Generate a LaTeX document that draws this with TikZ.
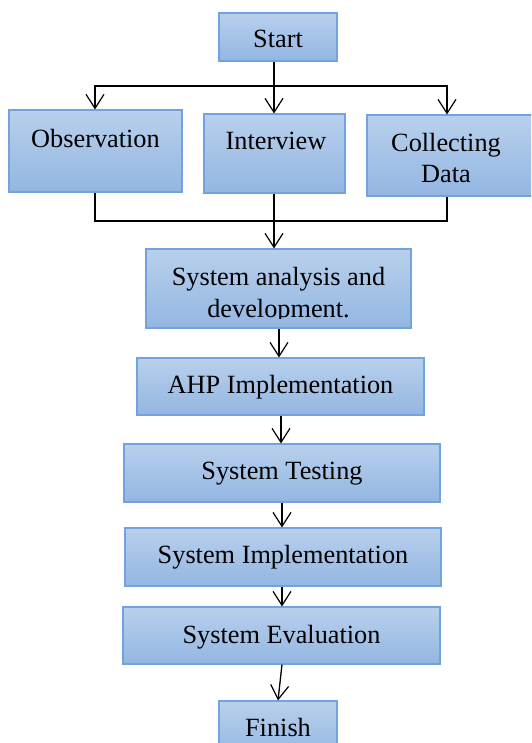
\documentclass[tikz,border=0pt]{standalone}
\usepackage{fontspec}
\setmainfont{Liberation Serif}
\usetikzlibrary{arrows.meta,fit}
\definecolor{boxtop}{HTML}{B8D0EC}
\definecolor{boxbot}{HTML}{93B6E2}
\definecolor{boxline}{HTML}{72A3DD}
\tikzset{
  box/.style={draw=boxline, line width=1.1pt, top color=boxtop, bottom color=boxbot, inner sep=0pt, rectangle},
  txt/.style={anchor=base, inner sep=0pt, font=\fontsize{26.3}{30}\selectfont},
  conn/.style={draw=black, line width=1.3pt},
  arr/.style={conn, -{Straight Barb[length=14pt, width=18pt, line width=1.2pt]}}
}
\begin{document}
\begin{tikzpicture}[x=1pt, y=-1pt]
\useasboundingbox (0,0) rectangle (531,743);
\clip (0,0) rectangle (531,743);
\fill[white] (0,0) rectangle (531,743);
% boxes
\node[box, fit={(219,13) (337,61)}] (start) {};
\node[box, fit={(9,110) (182,192)}] (obs) {};
\node[box, fit={(204,114) (345,193)}] (int) {};
\node[box, fit={(367,115) (535,196)}] (col) {};
\node[box, fit={(146,249) (411,328)}] (sa) {};
\node[box, fit={(137,358) (424,415)}] (ahp) {};
\node[box, fit={(124,444) (440,502)}] (test) {};
\node[box, fit={(125,528) (441,586)}] (impl) {};
\node[box, fit={(123,607) (440,664)}] (eval) {};
\node[box, fit={(219,701) (337,760)}] (fin) {};
% texts
\node[txt] (tstart) at (278,48) {Start};
\node[txt] (tobs) at (95.5,148) {Observation};
\node[txt] (tint) at (276,150) {Interview};
\node[txt] (tcol1) at (446,152) {Collecting};
\node[txt] (tcol2) at (446,183) {Data};
\node[txt] (tsa1) at (278.5,285) {System analysis and};
\begin{scope}
\clip (146,249) rectangle (411,318);
\node[txt] (tsa2) at (278.5,317) {development.};
\end{scope}
\node[txt] (tahp) at (280.5,393) {AHP Implementation};
\node[txt] (ttest) at (282,479) {System Testing};
\node[txt] (timpl) at (283,563) {System Implementation};
\node[txt] (teval) at (281.5,643) {System Evaluation};
\node[txt] (tfin) at (278,736) {Finish};
% connector coordinates
\coordinate (j1) at (274,86);
\coordinate (j2) at (274,221);
\coordinate (xo) at (95,0);
\coordinate (xc) at (447,0);
\coordinate (xs) at (274,0);
% top split
\draw[conn] (start.south -| xs) -- (j1);
\draw[arr] (j1) -| (obs.north -| xo);
\draw[arr] (j1) -- (int.north -| xs);
\draw[arr] (j1) -| (col.north -| xc);
% bottom join
\draw[conn] (obs.south -| xo) |- (j2);
\draw[conn] (col.south -| xc) |- (j2);
\draw[conn] (int.south -| xs) -- (j2);
\draw[arr] (j2) -- (sa.north -| xs);
% chain
\draw[arr] (sa.south -| 279,0) -- (ahp.north -| 279,0);
\draw[arr] (ahp.south -| 281,0) -- (test.north -| 281,0);
\draw[arr] (test.south -| 282,0) -- (impl.north -| 282,0);
\draw[arr] (impl.south -| 282,0) -- (eval.north -| 282,0);
\draw[arr] (eval.south -| 282,0) -- (fin.north -| 278,0);
\end{tikzpicture}
\end{document}
